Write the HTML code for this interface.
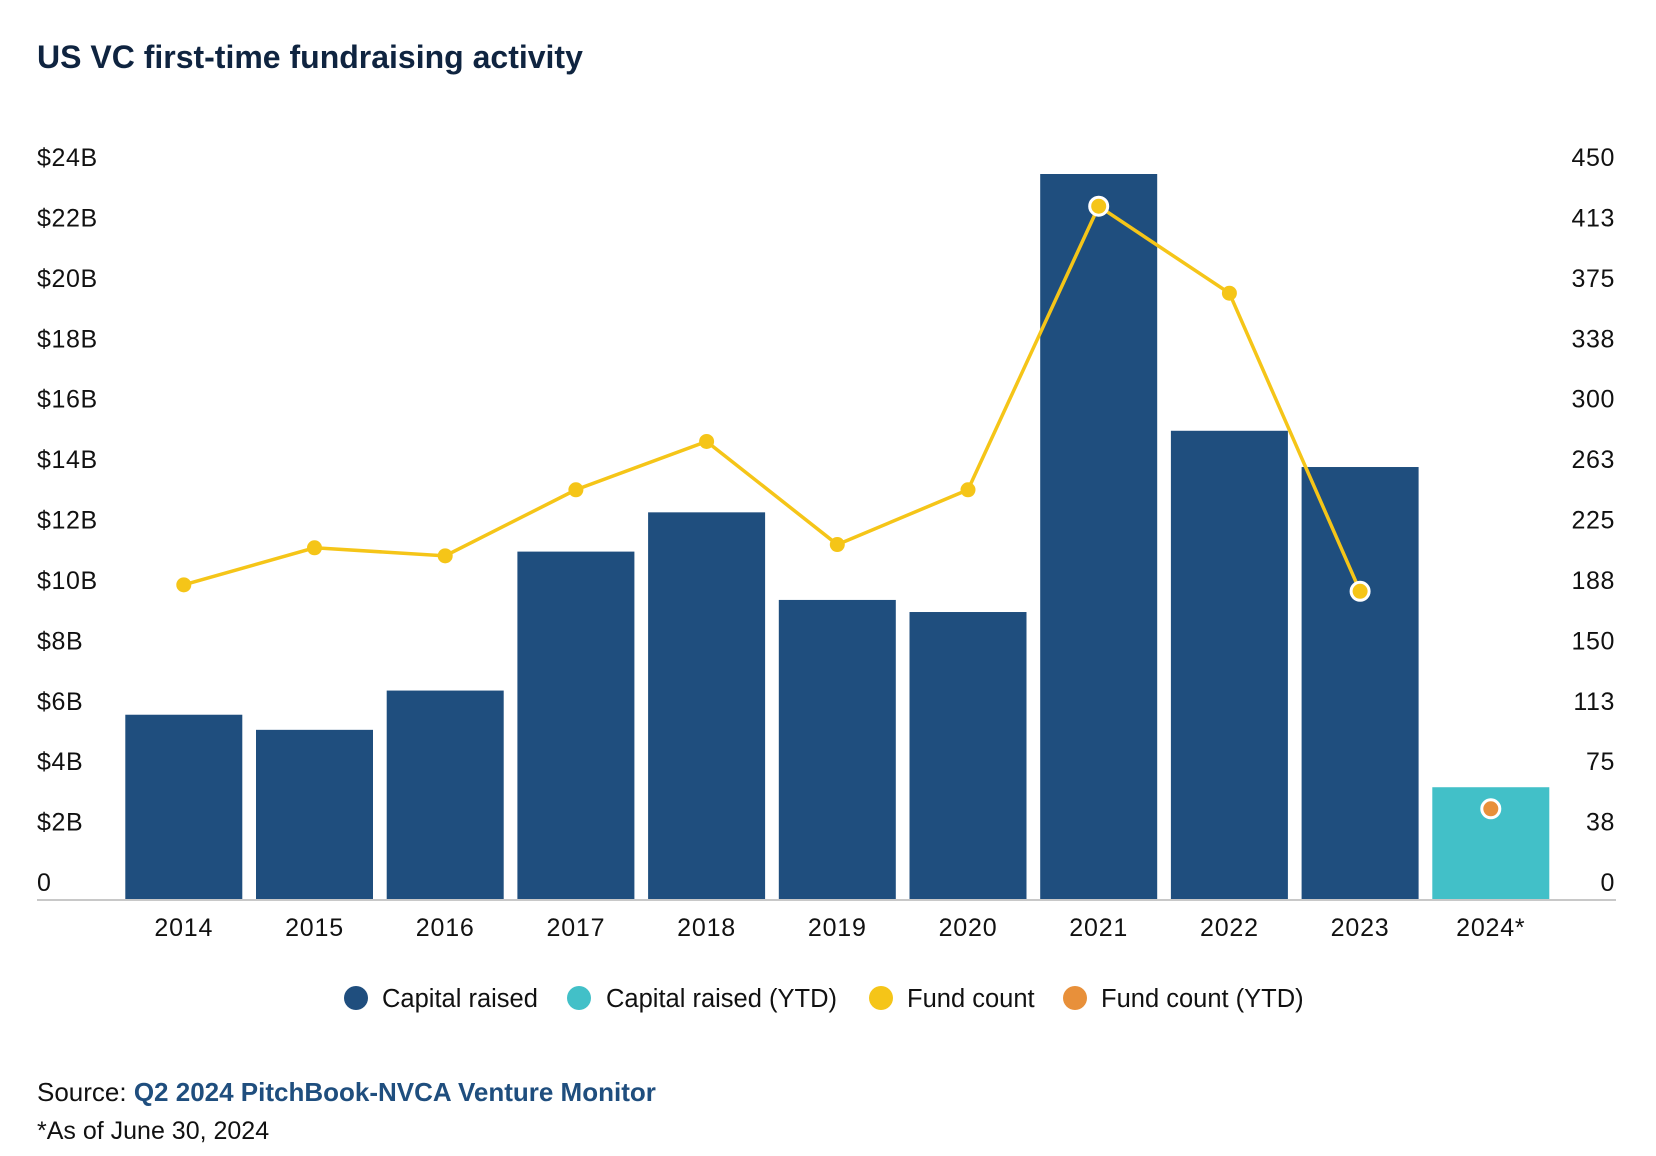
<!DOCTYPE html>
<html><head><meta charset="utf-8"><style>
html,body{margin:0;padding:0;background:#fff;}
svg{display:block;font-family:"Liberation Sans",sans-serif;}
</style></head><body>
<svg id="chart" width="1656" height="1156" viewBox="0 0 1656 1156">
<text x="37" y="68" font-size="32" font-weight="bold" fill="#0f2440">US VC first-time fundraising activity</text>
<g id="axes"></g><g id="bars"></g><g id="line"></g>
<g font-size="25.5" fill="#111">
<circle cx="356" cy="998" r="12" fill="#1f4e7e"/>
<text x="382" y="1007">Capital raised</text>
<circle cx="579" cy="998" r="12" fill="#42c0c8"/>
<text x="606" y="1007">Capital raised (YTD)</text>
<circle cx="881" cy="998" r="12" fill="#f5c518"/>
<text x="907" y="1007">Fund count</text>
<circle cx="1075" cy="998" r="12" fill="#e8903a"/>
<text x="1101" y="1007">Fund count (YTD)</text>
</g>
<text x="37" y="1101" font-size="26" fill="#111">Source: <tspan fill="#1f4e7e" font-weight="bold">Q2 2024 PitchBook-NVCA Venture Monitor</tspan></text>
<text x="37" y="1139" font-size="25" fill="#111">*As of June 30, 2024</text>
</svg>
<script>
const categories=["2014","2015","2016","2017","2018","2019","2020","2021","2022","2023","2024*"];
const capital=[6.1,5.6,6.9,11.5,12.8,9.9,9.5,24.0,15.5,14.3,3.7];
const fundCount=[195,218,213,254,284,220,254,430,376,191,56];
const leftTicks=[0,2,4,6,8,10,12,14,16,18,20,22,24];
const leftTickLabels=["0","$2B","$4B","$6B","$8B","$10B","$12B","$14B","$16B","$18B","$20B","$22B","$24B"];
const rightTickLabels=["0","38","75","113","150","188","225","263","300","338","375","413","450"];
const ytdIndex=10;
const NS="http://www.w3.org/2000/svg";
const base=899,top0=174,x0=183.8,step=130.7,bw=117;
const yL=v=>base-(base-top0)*v/24;
const yR=v=>base-(base-top0)*v/450;
const xC=i=>x0+i*step;
function mk(tag,attrs,parent,txt){const e=document.createElementNS(NS,tag);for(const k in attrs)e.setAttribute(k,attrs[k]);if(txt!==undefined)e.textContent=txt;parent.appendChild(e);return e;}
const axes=document.getElementById('axes'),bars=document.getElementById('bars'),line=document.getElementById('line');
leftTicks.forEach((v,i)=>{
 const t=mk('text',{x:37,y:yL(v)-8,'font-size':25,'letter-spacing':0.6,fill:'#111'},axes,leftTickLabels[i]);
 
 
 const r=mk('text',{x:1615,y:yL(v)-8,'font-size':25,'letter-spacing':0.6,fill:'#111','text-anchor':'end'},axes,rightTickLabels[i]);
 
 
});
categories.forEach((c,i)=>{
 const t=mk('text',{x:xC(i),y:936,'font-size':25,'letter-spacing':0.8,fill:'#111','text-anchor':'middle'},axes,c);
 
 
 const b=mk('rect',{x:xC(i)-bw/2,y:yL(capital[i]),width:bw,height:base-yL(capital[i]),fill:i===ytdIndex?'#42c0c8':'#1f4e7e'},bars);
 
 
});
const bl=mk('line',{x1:37,x2:1616,y1:base+1,y2:base+1,stroke:'#c8c8c8','stroke-width':2},axes);


let pts=[];for(let i=0;i<ytdIndex;i++)pts.push(xC(i)+','+yR(fundCount[i]));
const pl=mk('polyline',{points:pts.join(' '),fill:'none',stroke:'#f5c518','stroke-width':3.5},line);


fundCount.forEach((v,i)=>{
 const ytd=i===ytdIndex;
 const outline=ytd||i===7||i===9;
 const c=mk('circle',{cx:xC(i),cy:yR(v),r:outline?9:7.5,fill:ytd?'#e8903a':'#f5c518',stroke:outline?'#fff':'none','stroke-width':outline?3:0},line);
 
 
});
</script>
</body></html>
